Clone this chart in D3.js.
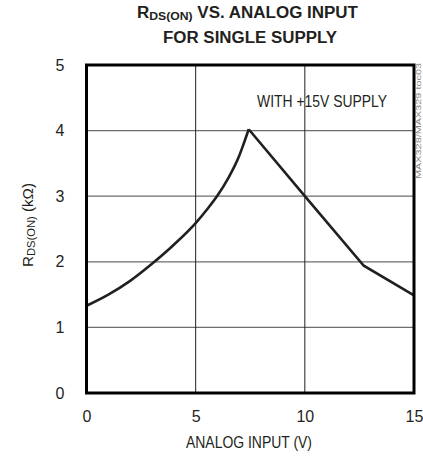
<!DOCTYPE html>
<html><head><meta charset="utf-8">
<script src="https://cdn.jsdelivr.net/npm/d3@7"></script>
<style>
body{margin:0;background:#fff;}
text{font-family:"Liberation Sans Narrow","Arial Narrow","Liberation Sans",sans-serif;fill:#231f20;}
</style></head><body>
<script>
const xTicks = [0, 5, 10, 15];
const yTicks = [0, 1, 2, 3, 4, 5];
// Left (curved) branch of RDS(ON) vs analog input
const leftV = [0, 1, 2, 3, 4, 5, 5.5, 6, 6.5, 7, 7.2, 7.43];
const leftR = [1.33, 1.50, 1.71, 1.97, 2.26, 2.59, 2.79, 3.01, 3.28, 3.62, 3.80, 4.02];
// Right (straight) branch
const rightV = [7.43, 10, 12.7, 15];
const rightR = [4.02, 3.0, 1.94, 1.49];
const title1 = "VS. ANALOG INPUT";
const title2 = "FOR SINGLE SUPPLY";
const annotation = "WITH +15V SUPPLY";

const W = 423, H = 457;
const m = {l: 86.5, r: 414, t: 65, b: 393};
const svg = d3.select("body").append("svg").attr("width", W).attr("height", H);
const x = d3.scaleLinear().domain([0, 15]).range([m.l, m.r]);
const y = d3.scaleLinear().domain([0, 5]).range([m.b, m.t]);

// grid
svg.append("g").selectAll("line").data(yTicks.slice(1, -1)).join("line")
  .attr("x1", m.l).attr("x2", m.r).attr("y1", d => y(d)).attr("y2", d => y(d))
  .attr("stroke", "#6d6e70").attr("stroke-width", 1.2);
svg.append("g").selectAll("line").data(xTicks.slice(1, -1)).join("line")
  .attr("y1", m.t).attr("y2", m.b).attr("x1", d => x(d)).attr("x2", d => x(d))
  .attr("stroke", "#231f20").attr("stroke-width", 1);

// axes tick labels via d3 axes (no lines)
const xAxis = svg.append("g").attr("transform", `translate(0,${m.b})`)
  .call(d3.axisBottom(x).tickValues(xTicks).tickFormat(d3.format("d")).tickSize(0).tickPadding(18));
const yAxis = svg.append("g").attr("transform", `translate(${m.l},0)`)
  .call(d3.axisLeft(y).tickValues(yTicks).tickFormat(d3.format("d")).tickSize(0));
[xAxis, yAxis].forEach(a => {
  a.select(".domain").remove();
  a.selectAll("text").style("font-family", '"Liberation Sans Narrow","Arial Narrow",sans-serif')
    .style("font-size", "16px").attr("fill", "#231f20");
});
yAxis.selectAll("text").attr("text-anchor", "middle").attr("x", -26.5);

// curve
svg.append("path").datum(leftV.map((v, i) => [v, leftR[i]]))
  .attr("d", d3.line().x(d => x(d[0])).y(d => y(d[1])).curve(d3.curveMonotoneX)).attr("fill", "none")
  .attr("stroke", "#231f20").attr("stroke-width", 2.6);
svg.append("path").datum(rightV.map((v, i) => [v, rightR[i]]))
  .attr("d", d3.line().x(d => x(d[0])).y(d => y(d[1]))).attr("fill", "none")
  .attr("stroke", "#231f20").attr("stroke-width", 2.6).attr("stroke-linejoin", "miter");

// frame
svg.append("rect").attr("x", m.l).attr("y", m.t).attr("width", m.r - m.l).attr("height", m.b - m.t)
  .attr("fill", "none").attr("stroke", "#000").attr("stroke-width", 3);

// annotation
svg.append("text").attr("x", 322).attr("y", 106.5).attr("text-anchor", "middle")
  .attr("textLength", 130).attr("lengthAdjust", "spacingAndGlyphs")
  .style("font-size", "16.5px").text(annotation);

// titles
const t1 = svg.append("text").attr("x", 247.5).attr("y", 17.5).attr("text-anchor", "middle")
  .attr("textLength", 221).attr("lengthAdjust", "spacingAndGlyphs")
  .style("font-size", "16px").style("font-weight", "bold");
t1.append("tspan").text("R");
t1.append("tspan").style("font-size", "11.5px").attr("dy", 2).text("DS(ON)");
t1.append("tspan").attr("dy", -2).text(" " + title1);
svg.append("text").attr("x", 250).attr("y", 43).attr("text-anchor", "middle")
  .attr("textLength", 174).attr("lengthAdjust", "spacingAndGlyphs")
  .style("font-size", "16px").style("font-weight", "bold").text(title2);

// axis titles
svg.append("text").attr("x", 249).attr("y", 448).attr("text-anchor", "middle")
  .attr("textLength", 126).attr("lengthAdjust", "spacingAndGlyphs")
  .style("font-size", "16.5px").text("ANALOG INPUT (V)");
const yt = svg.append("text").attr("transform", "translate(33,225) rotate(-90)")
  .attr("text-anchor", "middle").attr("textLength", 84).attr("lengthAdjust", "spacingAndGlyphs")
  .style("font-size", "15px");
yt.append("tspan").text("R");
yt.append("tspan").style("font-size", "11px").attr("dy", 2).text("DS(ON)");
yt.append("tspan").attr("dy", -2).text(" (kΩ)");

// side code
svg.append("text").attr("transform", "translate(421,121) rotate(-90)").attr("text-anchor", "middle")
  .attr("textLength", 116).attr("lengthAdjust", "spacingAndGlyphs")
  .style("font-size", "8px").style("fill", "#888").text("MAX328/MAX329 toc03");
</script>
</body></html>
